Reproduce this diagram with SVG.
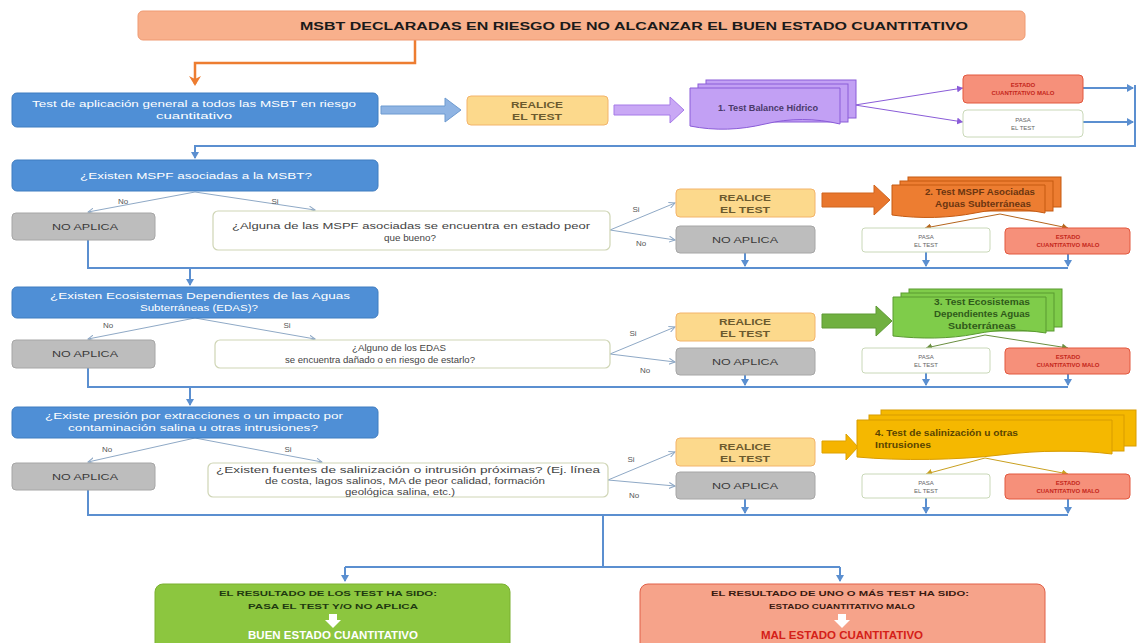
<svg xmlns="http://www.w3.org/2000/svg" width="1147" height="643" viewBox="0 0 1147 643">
<defs>
<marker id="ab" markerWidth="8" markerHeight="8" refX="6" refY="4" orient="auto" markerUnits="userSpaceOnUse"><path d="M0,0 L7,4 L0,8 Z" fill="#5b8fd0"/></marker>
<marker id="ao" markerWidth="12" markerHeight="12" refX="8" refY="6" orient="auto" markerUnits="userSpaceOnUse"><path d="M0,0 L10,6 L0,12 L3,6 Z" fill="#ed7d31"/></marker>
<marker id="ag" markerWidth="7" markerHeight="7" refX="6" refY="3.5" orient="auto" markerUnits="userSpaceOnUse"><path d="M0,0.5 L6,3.5 L0,6.5" fill="none" stroke="#8fa9c6" stroke-width="1"/></marker>
<marker id="ap" markerWidth="7" markerHeight="7" refX="6" refY="3.5" orient="auto" markerUnits="userSpaceOnUse"><path d="M0,0 L6,3.5 L0,7 Z" fill="#8a5cd8"/></marker>
<marker id="aor" markerWidth="7" markerHeight="7" refX="6" refY="3.5" orient="auto" markerUnits="userSpaceOnUse"><path d="M0,0 L6,3.5 L0,7 Z" fill="#b5651d"/></marker>
<marker id="agr" markerWidth="7" markerHeight="7" refX="6" refY="3.5" orient="auto" markerUnits="userSpaceOnUse"><path d="M0,0 L6,3.5 L0,7 Z" fill="#6a8f40"/></marker>
<marker id="ay" markerWidth="7" markerHeight="7" refX="6" refY="3.5" orient="auto" markerUnits="userSpaceOnUse"><path d="M0,0 L6,3.5 L0,7 Z" fill="#c9a020"/></marker>
</defs>
<style>
text{font-family:"Liberation Sans",Arial,sans-serif}
.blue{fill:#4f8fd6;stroke:#3f7cc0;stroke-width:1}
.bt{fill:#ffffff;font-size:9.5px;text-anchor:middle}
.yel{fill:#fcd98c;stroke:#f3b46a;stroke-width:1}
.yt{fill:#6b5a2e;font-size:9.5px;text-anchor:middle;font-weight:bold}
.gray{fill:#bdbdbd;stroke:#a6a6a6;stroke-width:1}
.gt{fill:#3a3a3a;font-size:9px;text-anchor:middle}
.q{fill:#ffffff;stroke:#cfd5b5;stroke-width:1.2}
.qt{fill:#444;font-size:9px;text-anchor:middle}
.mal{fill:#f6907a;stroke:#e2583f;stroke-width:1}
.mt{fill:#c4261a;font-size:6px;text-anchor:middle;font-weight:bold}
.pasa{fill:#ffffff;stroke:#c9d8b8;stroke-width:1}
.pt{fill:#666;font-size:6px;text-anchor:middle}
.lbl{fill:#555;font-size:8px;text-anchor:middle}
.dt{font-size:9px;font-weight:bold;text-anchor:middle}
.conn{fill:none;stroke:#5b8fd0;stroke-width:2}
.br{fill:none;stroke:#8fa9c6;stroke-width:1}
</style>

<g id="connectors">
<path d="M415,40 V63 H195 V84" fill="none" stroke="#ed7d31" stroke-width="2.5" marker-end="url(#ao)"/>
<path d="M855,105 L963,88" fill="none" stroke="#8a5cd8" stroke-width="1" marker-end="url(#ap)"/>
<path d="M855,105 L963,122" fill="none" stroke="#8a5cd8" stroke-width="1" marker-end="url(#ap)"/>
<path d="M1083,88 H1133" class="conn" marker-end="url(#ab)"/>
<path d="M1083,122 H1133" class="conn" marker-end="url(#ab)"/>
<path d="M1135,85 V146 H195 V158" class="conn" marker-end="url(#ab)"/>
<path d="M195,192 L88,212" class="br" marker-end="url(#ag)"/>
<path d="M195,192 L315,210" class="br" marker-end="url(#ag)"/>
<path d="M610,230 L675,203" class="br" marker-end="url(#ag)"/>
<path d="M610,230 L675,240" class="br" marker-end="url(#ag)"/>
<path d="M1000,214 L925,228" fill="none" stroke="#b5651d" stroke-width="1" marker-end="url(#aor)"/>
<path d="M1000,214 L1068,228" fill="none" stroke="#b5651d" stroke-width="1" marker-end="url(#aor)"/>
<path d="M88,240 V268 H1068" class="conn"/>
<path d="M745,253 V266" class="conn" marker-end="url(#ab)"/>
<path d="M926,252 V266" class="conn" marker-end="url(#ab)"/>
<path d="M1068,254 V266" class="conn" marker-end="url(#ab)"/>
<path d="M190,268 V285" class="conn" marker-end="url(#ab)"/>
<path d="M195,318 L88,339" class="br" marker-end="url(#ag)"/>
<path d="M195,318 L315,339" class="br" marker-end="url(#ag)"/>
<path d="M610,354 L675,327" class="br" marker-end="url(#ag)"/>
<path d="M610,354 L675,362" class="br" marker-end="url(#ag)"/>
<path d="M985,335 L926,348" fill="none" stroke="#6a8f40" stroke-width="1" marker-end="url(#agr)"/>
<path d="M985,335 L1068,348" fill="none" stroke="#6a8f40" stroke-width="1" marker-end="url(#agr)"/>
<path d="M88,368 V387 H1068" class="conn"/>
<path d="M745,375 V385" class="conn" marker-end="url(#ab)"/>
<path d="M926,373 V385" class="conn" marker-end="url(#ab)"/>
<path d="M1068,374 V385" class="conn" marker-end="url(#ab)"/>
<path d="M190,387 V405" class="conn" marker-end="url(#ab)"/>
<path d="M195,438 L88,462" class="br" marker-end="url(#ag)"/>
<path d="M195,438 L322,462" class="br" marker-end="url(#ag)"/>
<path d="M608,480 L675,452" class="br" marker-end="url(#ag)"/>
<path d="M608,480 L675,486" class="br" marker-end="url(#ag)"/>
<path d="M985,458 L926,474" fill="none" stroke="#c9a020" stroke-width="1" marker-end="url(#ay)"/>
<path d="M985,458 L1068,474" fill="none" stroke="#c9a020" stroke-width="1" marker-end="url(#ay)"/>
<path d="M88,490 V515 H1068" class="conn"/>
<path d="M745,499 V513" class="conn" marker-end="url(#ab)"/>
<path d="M926,498 V513" class="conn" marker-end="url(#ab)"/>
<path d="M1068,499 V513" class="conn" marker-end="url(#ab)"/>
<path d="M603,515 V567 M345,567 H840" class="conn"/>
<path d="M345,567 V581" class="conn" marker-end="url(#ab)"/>
<path d="M840,567 V581" class="conn" marker-end="url(#ab)"/>
<path d="M381,106 H445 V98 L461,110 L445,122 V114 H381 Z" fill="#8fb4e3" stroke="#6d9ad0" stroke-width="1"/>
<path d="M614,105 H670 V97 L684,110 L670,123 V115 H614 Z" fill="#c9a8f5" stroke="#a67be8" stroke-width="1"/>
<path d="M822,193 H874 V185 L890,200 L874,215 V207 H822 Z" fill="#e8762d" stroke="#d0651f" stroke-width="1"/>
<path d="M822,314 H876 V306 L892,321 L876,336 V328 H822 Z" fill="#70b040" stroke="#5f9a35" stroke-width="1"/>
<path d="M822,441 H846 V434 L858,447 L846,460 V453 H822 Z" fill="#f5b400" stroke="#dea200" stroke-width="1"/>
<text x="123" y="204" class="lbl">No</text>
<text x="275" y="204" class="lbl">Si</text>
<text x="636" y="212" class="lbl">Si</text>
<text x="641" y="246" class="lbl">No</text>
<text x="108" y="328" class="lbl">No</text>
<text x="287" y="328" class="lbl">Si</text>
<text x="633" y="336" class="lbl">Si</text>
<text x="645" y="373" class="lbl">No</text>
<text x="107" y="452" class="lbl">No</text>
<text x="288" y="452" class="lbl">Si</text>
<text x="631" y="462" class="lbl">Si</text>
<text x="634" y="498" class="lbl">No</text>
</g>

<g id="header">
<rect x="138" y="11" width="887" height="29" rx="5" fill="#f8b08c" stroke="#ef9a72" stroke-width="1"/>
<text x="634" y="30" font-size="11.5" font-weight="bold" text-anchor="middle" fill="#1a1a1a" textLength="668" lengthAdjust="spacingAndGlyphs">MSBT DECLARADAS EN RIESGO DE NO ALCANZAR EL BUEN ESTADO CUANTITATIVO</text>
</g>

<g id="q1"><rect x="12" y="93" width="366" height="34" rx="5" class="blue"/>
<text x="194" y="107" class="bt" textLength="324" lengthAdjust="spacingAndGlyphs">Test de aplicación general a todos las MSBT en riesgo</text><text x="194" y="119" class="bt" textLength="76" lengthAdjust="spacingAndGlyphs">cuantitativo</text></g>
<g id="realice1"><rect x="467" y="96" width="141" height="29" rx="4" class="yel"/>
<text x="537" y="108" class="yt" textLength="52" lengthAdjust="spacingAndGlyphs">REALICE</text><text x="537" y="120" class="yt" textLength="50" lengthAdjust="spacingAndGlyphs">EL TEST</text></g>
<g id="test1">
<rect x="706" y="80" width="150" height="38" fill="#c2a0f4" stroke="#8a5cd8" stroke-width="1"/>
<rect x="698" y="84" width="150" height="38" fill="#c2a0f4" stroke="#8a5cd8" stroke-width="1"/>
<path d="M690,88 H840 V124 C815,118 790,118 765,124 C740,130 715,131 690,126 Z" fill="#c2a0f4" stroke="#8a5cd8" stroke-width="1"/>
<text x="768" y="111" class="dt" fill="#4a3a6a" textLength="100" lengthAdjust="spacingAndGlyphs">1. Test Balance Hídrico</text></g>
<g id="mal1"><rect x="963" y="75" width="120" height="28" rx="4" class="mal"/>
<text x="1023" y="87" class="mt">ESTADO</text><text x="1023" y="95" class="mt">CUANTITATIVO MALO</text></g>
<g id="pasa1"><rect x="963" y="110" width="120" height="27" rx="4" class="pasa"/>
<text x="1023" y="122" class="pt">PASA</text><text x="1023" y="130" class="pt">EL TEST</text></g>

<g id="q2"><rect x="12" y="160" width="366" height="31" rx="5" class="blue"/>
<text x="196" y="179" class="bt" textLength="232" lengthAdjust="spacingAndGlyphs">¿Existen MSPF asociadas a la MSBT?</text></g>
<g id="na2"><rect x="12" y="213" width="143" height="27" rx="4" class="gray"/>
<text x="85" y="230" class="gt" textLength="66" lengthAdjust="spacingAndGlyphs">NO APLICA</text></g>
<g id="q2b"><rect x="213" y="211" width="397" height="39" rx="5" class="q"/>
<text x="411" y="229" class="qt" textLength="358" lengthAdjust="spacingAndGlyphs">¿Alguna de las MSPF asociadas se encuentra en estado peor</text><text x="410" y="241" class="qt" textLength="52" lengthAdjust="spacingAndGlyphs">que bueno?</text></g>
<g id="realice2"><rect x="676" y="189" width="139" height="28" rx="4" class="yel"/>
<text x="745" y="201" class="yt" textLength="52" lengthAdjust="spacingAndGlyphs">REALICE</text><text x="745" y="213" class="yt" textLength="50" lengthAdjust="spacingAndGlyphs">EL TEST</text></g>
<g id="na2b"><rect x="676" y="226" width="139" height="27" rx="4" class="gray"/>
<text x="745" y="243" class="gt" textLength="66" lengthAdjust="spacingAndGlyphs">NO APLICA</text></g>
<g id="test2">
<rect x="908" y="177" width="153" height="30" fill="#ed7d31" stroke="#c55a11" stroke-width="1"/>
<rect x="900" y="181" width="153" height="30" fill="#ed7d31" stroke="#c55a11" stroke-width="1"/>
<path d="M892,185 H1045 V213 C1020,208 1000,208 975,213 C950,218 920,219 892,215 Z" fill="#ed7d31" stroke="#c55a11" stroke-width="1"/>
<text x="980" y="195" class="dt" fill="#6b3510" textLength="110" lengthAdjust="spacingAndGlyphs">2. Test MSPF Asociadas</text>
<text x="983" y="207" class="dt" fill="#6b3510" textLength="96" lengthAdjust="spacingAndGlyphs">Aguas Subterráneas</text></g>
<g id="pasa2"><rect x="862" y="228" width="128" height="24" rx="3" class="pasa"/>
<text x="926" y="239" class="pt">PASA</text><text x="926" y="247" class="pt">EL TEST</text></g>
<g id="mal2"><rect x="1005" y="228" width="125" height="26" rx="4" class="mal"/>
<text x="1068" y="239" class="mt">ESTADO</text><text x="1068" y="247" class="mt">CUANTITATIVO MALO</text></g>

<g id="q3"><rect x="12" y="287" width="366" height="31" rx="5" class="blue"/>
<text x="200" y="299" class="bt" textLength="300" lengthAdjust="spacingAndGlyphs">¿Existen Ecosistemas Dependientes de  las Aguas</text><text x="199" y="311" class="bt" textLength="118" lengthAdjust="spacingAndGlyphs">Subterráneas (EDAS)?</text></g>
<g id="na3"><rect x="12" y="340" width="143" height="28" rx="4" class="gray"/>
<text x="85" y="357" class="gt" textLength="66" lengthAdjust="spacingAndGlyphs">NO APLICA</text></g>
<g id="q3b"><rect x="215" y="340" width="395" height="28" rx="5" class="q"/>
<text x="399" y="351" class="qt" textLength="94" lengthAdjust="spacingAndGlyphs">¿Alguno de los EDAS</text><text x="380" y="363" class="qt" textLength="190" lengthAdjust="spacingAndGlyphs">se encuentra dañado o en riesgo de estarlo?</text></g>
<g id="realice3"><rect x="676" y="313" width="139" height="28" rx="4" class="yel"/>
<text x="745" y="325" class="yt" textLength="52" lengthAdjust="spacingAndGlyphs">REALICE</text><text x="745" y="337" class="yt" textLength="50" lengthAdjust="spacingAndGlyphs">EL TEST</text></g>
<g id="na3b"><rect x="676" y="348" width="139" height="27" rx="4" class="gray"/>
<text x="745" y="365" class="gt" textLength="66" lengthAdjust="spacingAndGlyphs">NO APLICA</text></g>
<g id="test3">
<rect x="909" y="289" width="153" height="38" fill="#7fcc4a" stroke="#5a9a30" stroke-width="1"/>
<rect x="901" y="293" width="153" height="38" fill="#7fcc4a" stroke="#5a9a30" stroke-width="1"/>
<path d="M893,297 H1046 V333 C1020,329 1000,329 975,334 C950,339 920,339 893,336 Z" fill="#7fcc4a" stroke="#5a9a30" stroke-width="1"/>
<text x="982" y="305" class="dt" fill="#2f5a1a" textLength="96" lengthAdjust="spacingAndGlyphs">3. Test Ecosistemas</text>
<text x="982" y="317" class="dt" fill="#2f5a1a" textLength="96" lengthAdjust="spacingAndGlyphs">Dependientes Aguas</text>
<text x="982" y="329" class="dt" fill="#2f5a1a" textLength="68" lengthAdjust="spacingAndGlyphs">Subterráneas</text></g>
<g id="pasa3"><rect x="862" y="348" width="128" height="25" rx="3" class="pasa"/>
<text x="926" y="359" class="pt">PASA</text><text x="926" y="367" class="pt">EL TEST</text></g>
<g id="mal3"><rect x="1005" y="348" width="125" height="26" rx="4" class="mal"/>
<text x="1068" y="359" class="mt">ESTADO</text><text x="1068" y="367" class="mt">CUANTITATIVO MALO</text></g>

<g id="q4"><rect x="12" y="407" width="366" height="31" rx="5" class="blue"/>
<text x="194" y="419" class="bt" textLength="298" lengthAdjust="spacingAndGlyphs">¿Existe presión por extracciones  o un impacto por</text><text x="193" y="431" class="bt" textLength="250" lengthAdjust="spacingAndGlyphs">contaminación salina u otras intrusiones?</text></g>
<g id="na4"><rect x="12" y="463" width="143" height="27" rx="4" class="gray"/>
<text x="85" y="480" class="gt" textLength="66" lengthAdjust="spacingAndGlyphs">NO APLICA</text></g>
<g id="q4b"><rect x="208" y="463" width="400" height="34" rx="5" class="q"/>
<text x="408" y="473" class="qt" textLength="384" lengthAdjust="spacingAndGlyphs">¿Existen fuentes de salinización o intrusión próximas? (Ej. línea</text><text x="405" y="484" class="qt" textLength="280" lengthAdjust="spacingAndGlyphs">de costa, lagos salinos, MA de peor calidad, formación</text><text x="400" y="495" class="qt" textLength="110" lengthAdjust="spacingAndGlyphs">geológica salina, etc.)</text></g>
<g id="realice4"><rect x="676" y="438" width="139" height="28" rx="4" class="yel"/>
<text x="745" y="450" class="yt" textLength="52" lengthAdjust="spacingAndGlyphs">REALICE</text><text x="745" y="462" class="yt" textLength="50" lengthAdjust="spacingAndGlyphs">EL TEST</text></g>
<g id="na4b"><rect x="676" y="472" width="139" height="27" rx="4" class="gray"/>
<text x="745" y="489" class="gt" textLength="66" lengthAdjust="spacingAndGlyphs">NO APLICA</text></g>
<g id="test4">
<rect x="881" y="410" width="255" height="36" fill="#f5b800" stroke="#d89c00" stroke-width="1"/>
<rect x="869" y="415" width="255" height="36" fill="#f5b800" stroke="#d89c00" stroke-width="1"/>
<path d="M857,420 H1112 V454 C1080,450 1040,450 1000,455 C960,460 900,461 857,457 Z" fill="#f5b800" stroke="#d89c00" stroke-width="1"/>
<text x="875" y="436" font-size="9px" font-weight="bold" fill="#5a4500" textLength="143" lengthAdjust="spacingAndGlyphs">4. Test de salinización u otras</text>
<text x="875" y="448" font-size="9px" font-weight="bold" fill="#5a4500" textLength="56" lengthAdjust="spacingAndGlyphs">Intrusiones</text></g>
<g id="pasa4"><rect x="862" y="474" width="128" height="24" rx="3" class="pasa"/>
<text x="926" y="485" class="pt">PASA</text><text x="926" y="493" class="pt">EL TEST</text></g>
<g id="mal4"><rect x="1005" y="474" width="125" height="25" rx="4" class="mal"/>
<text x="1068" y="485" class="mt">ESTADO</text><text x="1068" y="493" class="mt">CUANTITATIVO MALO</text></g>

<g id="buen">
<rect x="155" y="584" width="355" height="70" rx="8" fill="#8cc63f" stroke="#7ab030" stroke-width="1"/>
<text x="328" y="596" font-size="8px" font-weight="bold" text-anchor="middle" fill="#1f3a10" textLength="218" lengthAdjust="spacingAndGlyphs">EL RESULTADO DE LOS TEST HA SIDO:</text>
<text x="333" y="609" font-size="8px" font-weight="bold" text-anchor="middle" fill="#1f3a10" textLength="170" lengthAdjust="spacingAndGlyphs">PASA EL TEST Y/O NO APLICA</text>
<path d="M329,614 H337 V620 H341 L333,628 L325,620 H329 Z" fill="#ffffff"/>
<text x="333" y="639" font-size="11.5" font-weight="bold" text-anchor="middle" fill="#ffffff">BUEN ESTADO CUANTITATIVO</text></g>
<g id="mal">
<rect x="640" y="584" width="405" height="70" rx="8" fill="#f6a38a" stroke="#e06048" stroke-width="1"/>
<text x="840" y="596" font-size="8px" font-weight="bold" text-anchor="middle" fill="#3a1a10" textLength="258" lengthAdjust="spacingAndGlyphs">EL RESULTADO DE UNO O MÁS TEST HA SIDO:</text>
<text x="842" y="609" font-size="8px" font-weight="bold" text-anchor="middle" fill="#3a1a10" textLength="146" lengthAdjust="spacingAndGlyphs">ESTADO CUANTITATIVO MALO</text>
<path d="M838,614 H846 V620 H850 L842,628 L834,620 H838 Z" fill="#ffffff"/>
<text x="842" y="639" font-size="11.5" font-weight="bold" text-anchor="middle" fill="#d42018">MAL ESTADO CUANTITATIVO</text></g>
</svg>
